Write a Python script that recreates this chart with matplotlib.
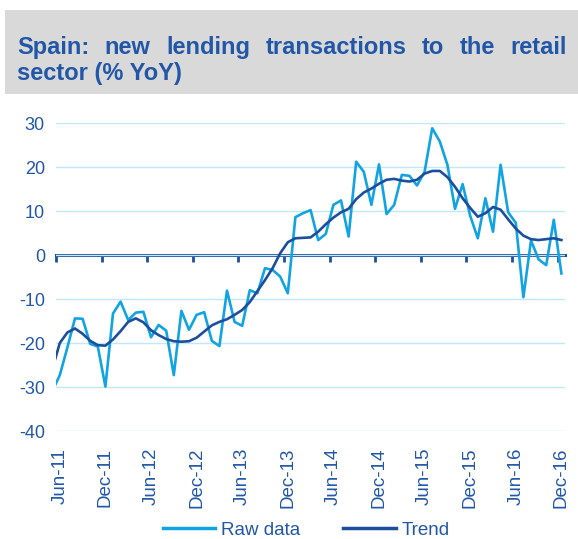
import matplotlib.pyplot as plt
import matplotlib.patches as patches
import numpy as np
import pandas as pd

plt.rcParams['font.family'] = ['Liberation Sans', 'DejaVu Sans']
plt.rcParams['axes.unicode_minus'] = False

# monthly data, May-11 .. Dec-16 (first point sits just left of the axis)
months = pd.date_range('2011-05-01', '2016-12-01', freq='MS')
raw = [-31.0, -27.3, -21.0, -14.4, -14.5, -20.2, -20.8, -29.9, -13.3, -10.6,
       -14.8, -13.1, -12.9, -18.7, -15.9, -17.2, -27.3, -12.7, -17.0, -13.6,
       -13.0, -19.5, -20.7, -8.1, -15.2, -16.1, -8.0, -8.7, -3.0, -3.4,
       -4.9, -8.7, 8.6, 9.5, 10.2, 3.4, 4.8, 11.4, 12.4, 4.2,
       21.2, 18.9, 11.4, 20.6, 9.3, 11.4, 18.2, 18.0, 15.8, 18.9,
       28.8, 25.8, 20.5, 10.5, 16.1, 8.9, 3.8, 12.9, 5.3, 20.5,
       9.7, 7.3, -9.6, 3.3, -1.0, -2.3, 8.0, -4.2]
trend = [-26.0, -20.0, -17.6, -16.7, -17.9, -19.5, -20.5, -20.6, -19.2, -17.3,
         -15.2, -14.4, -15.3, -17.1, -18.2, -19.1, -19.6, -19.7, -19.6, -18.8,
         -17.4, -16.0, -15.2, -14.6, -13.6, -12.5, -10.7, -8.2, -5.7, -3.0,
         0.4, 2.9, 3.8, 3.9, 4.0, 5.3, 7.0, 8.5, 9.7, 10.5,
         12.7, 14.2, 15.1, 16.2, 17.1, 17.3, 16.9, 16.7, 17.1, 18.5,
         19.1, 19.1, 17.7, 15.5, 12.9, 10.7, 8.7, 9.5, 10.9, 10.3,
         8.1, 6.0, 4.4, 3.6, 3.4, 3.6, 3.8, 3.4]
labels = [m.strftime('%b-%y') for m in months]
yticks = [30, 20, 10, 0, -10, -20, -30, -40]

light = '#12A3E3'
dark = '#1C4E9D'
grid_c = '#C2E8F8'
txt = '#2257A7'

x = np.arange(len(months)) - 1  # Jun-11 at 0

fig = plt.figure(figsize=(5.78, 5.39), dpi=100)
W, H = 578, 539

# grey title box
fig.patches.append(patches.Rectangle((5 / W, 1 - 94 / H), 1, 84 / H,
                                     transform=fig.transFigure,
                                     facecolor='#D9D9D9', edgecolor='none', zorder=0))

ax = fig.add_axes([56 / W, 1 - 431 / H, (565.2 - 56) / W, 308 / H])
ax.set_facecolor('none')
ax.plot(x, raw, color=light, lw=1.9, label='Raw data', zorder=3)
ax.plot(x, trend, color=dark, lw=1.9, label='Trend', zorder=4)

ax.set_xlim(-0.5, 66.5)
ax.set_ylim(-40, 30)
ax.set_yticks(yticks)
ax.yaxis.grid(True, color=grid_c, lw=1)
ax.set_axisbelow(True)
for s in ax.spines.values():
    s.set_visible(False)

pos = [i for i in range(0, 67, 6)]
ax.set_xticks(pos)
ax.set_xticklabels([labels[p + 1] for p in pos], rotation=90)
ax.tick_params(axis='x', length=0, pad=12, labelsize=13.5, labelcolor=txt)
ax.tick_params(axis='y', length=0, pad=8, labelsize=13, labelcolor=txt)

# zero line with ticks between categories
sec = ax.secondary_xaxis(40 / 70)
sec.set_alignment('bottom')
sec.set_xticks([p - 0.5 for p in pos])
sec.set_xticklabels([])
sec.tick_params(direction='out', length=5, width=2, color=dark)
sec.spines['bottom'].set_color(dark)
sec.spines['bottom'].set_linewidth(2.2)

# justified title, first line
words = 'Spain: new lending transactions to the retail'.split()
fs = 17
r = fig.canvas.get_renderer()
ts = [fig.text(0, 1 - 54 / H, w, fontsize=fs, fontweight='bold', color=txt,
               va='baseline', ha='left') for w in words]
widths = [t.get_window_extent(r).width for t in ts]
gap = (567 - 17 - sum(widths)) / (len(words) - 1)
xp = 17
for t, wd in zip(ts, widths):
    t.set_x(xp / W)
    xp += wd + gap
fig.text(17 / W, 1 - 80 / H, 'sector (% YoY)', fontsize=fs, fontweight='bold',
         color=txt, va='baseline', ha='left')

leg = fig.legend(loc='center', bbox_to_anchor=(306 / W, 1 - 530 / H), ncol=2,
                 frameon=False, fontsize=13.5, handlelength=2.8, columnspacing=2.3,
                 handletextpad=0.3)
for t in leg.get_texts():
    t.set_color(txt)
for l in leg.get_lines():
    l.set_linewidth(2.5)

fig.savefig('out.png', dpi=100)
